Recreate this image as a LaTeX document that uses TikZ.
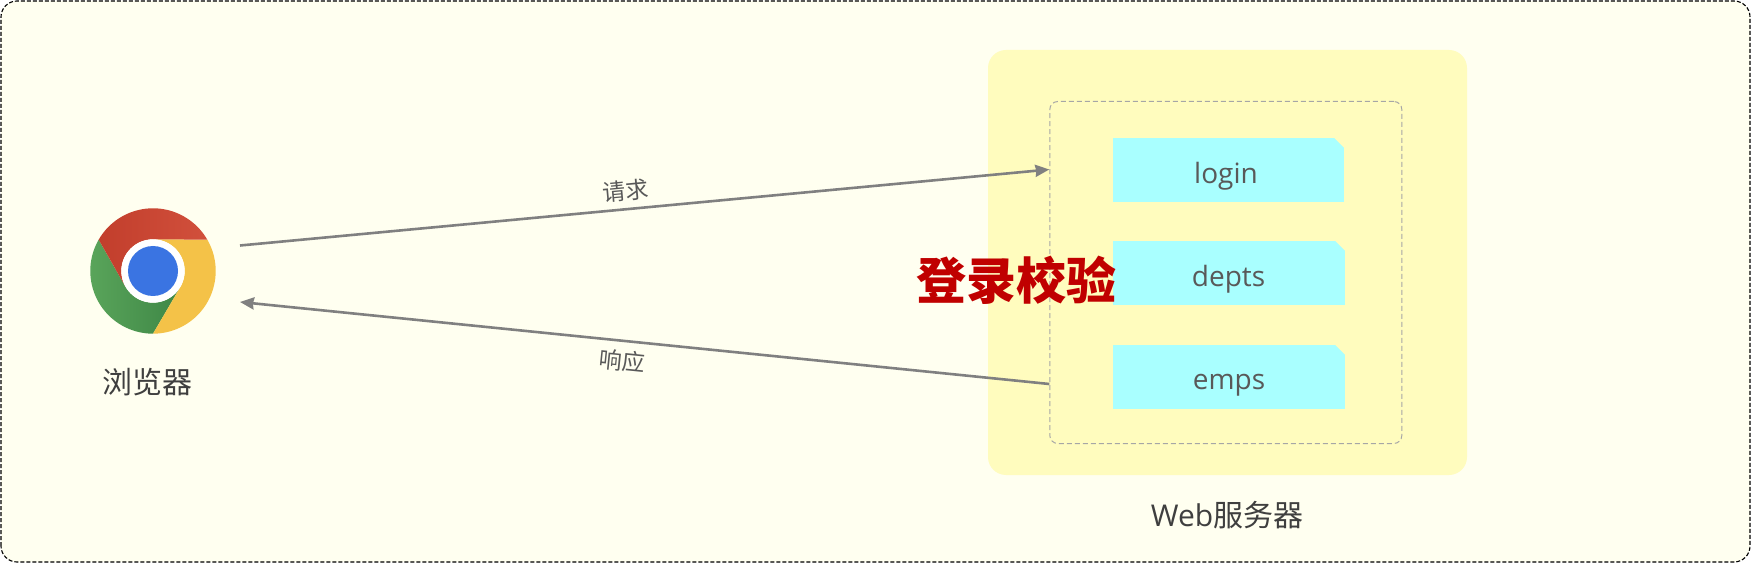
\documentclass[tikz,border=0pt]{standalone}
\usepackage{fontspec}
\setmainfont{Open Sans}
\newfontfamily\cjk{Noto Sans CJK SC}
\usetikzlibrary{arrows.meta}
\definecolor{pagebg}{HTML}{FFFFF0}
\definecolor{serverbg}{HTML}{FFFCBE}
\definecolor{servlet}{HTML}{A9FFFF}
\definecolor{labeltxt}{HTML}{3F3F3F}
\definecolor{servlettxt}{HTML}{595959}
\definecolor{arrowgray}{HTML}{808080}
\definecolor{alarm}{HTML}{C00000}
\tikzset{
  outerframe/.style={draw=black,fill=pagebg,line width=1.1pt,rounded corners=16pt,dash pattern=on 4pt off 2pt},
  serverbox/.style={fill=serverbg,rounded corners=18pt},
  innerbox/.style={draw=black!35,line width=1pt,rounded corners=8pt,dash pattern=on 5pt off 3pt},
  servletbox/.style={rectangle,fill=servlet,minimum height=64pt,inner sep=0pt},
  servlettext/.style={text=servlettxt,font=\fontsize{28}{32}\selectfont},
  notch/.style={fill=serverbg},
  flow/.style={draw=arrowgray,line width=2.6pt,-{Stealth[length=14pt,width=12pt,inset=1pt]}},
  flowlabel/.style={text=black!65,font=\fontsize{23}{26}\cjk\selectfont},
  caption/.style={text=labeltxt,font=\fontsize{30}{34}\cjk\selectfont},
}
\begin{document}
\begin{tikzpicture}[x=1pt,y=1pt]
\useasboundingbox (0,0) rectangle (1751,563);
\draw[outerframe] (1,1) rectangle (1750,562);
\fill[serverbox] (988,88) rectangle (1467,513);
\node[innerbox,draw,minimum width=352pt,minimum height=342pt,inner sep=0pt,anchor=south west] (inner) at (1049.3,119) {};
\node[servletbox,minimum width=231pt] (login) at (1228.5,393) {};
\node[servletbox,minimum width=232pt] (depts) at (1229,290) {};
\node[servletbox,minimum width=232pt] (emps) at (1229,186) {};
\fill[notch] (login.north east) -- ++(-10,0) -- ++(10,-10) -- cycle;
\fill[notch] (depts.north east) -- ++(-10,0) -- ++(10,-10) -- cycle;
\fill[notch] (emps.north east) -- ++(-10,0) -- ++(10,-10) -- cycle;
\node[servlettext] (logintxt) at (1226,387) {login};
\node[servlettext] (deptstxt) at (1228.5,284) {depts};
\node[servlettext] (empstxt) at (1229,177.5) {emps};
% Chrome logo
\begin{scope}[shift={(153,292)}]
  \shade[left color={rgb,255:red,92;green,167;blue,92},right color={rgb,255:red,62;green,135;blue,70}]
     (150:62.7) arc[start angle=150,end angle=270,radius=62.7] -- (330:31.7) arc[start angle=330,end angle=210,radius=31.7] -- cycle;
  \fill[color={rgb,255:red,244;green,194;blue,72}]
     (30:62.7) arc[start angle=30,end angle=-90,radius=62.7] -- (330:31.7) arc[start angle=-30,end angle=90,radius=31.7] -- cycle;
  \shade[left color={rgb,255:red,194;green,62;blue,44},right color={rgb,255:red,209;green,80;blue,60}]
     (150:62.7) arc[start angle=150,end angle=30,radius=62.7] -- (90:31.7) arc[start angle=90,end angle=210,radius=31.7] -- cycle;
  \fill[white] (0,0) circle[radius=31.7];
  \node[circle,fill={rgb,255:red,58;green,116;blue,226},minimum size=50pt,inner sep=0pt] (chrome) at (0,0) {};
\end{scope}
\coordinate (reqstart) at (240,317.5);
\coordinate (reqend) at (inner.west |- 0,393.5);
\coordinate (respstart) at (inner.west |- 0,179);
\coordinate (respend) at (240,261);
\draw[flow] (reqstart) -- (reqend);
\draw[flow] (respstart) -- (respend);
\node[flowlabel,rotate=5.3] (reqlabel) at (625.5,372) {请求};
\node[flowlabel,rotate=-5.8] (resplabel) at (622,202) {响应};
\node[caption] (browser) at (147,181) {浏览器};
\node[caption] (server) at (1227,48) {\fontspec{Open Sans}Web\cjk 服务器};
\node[text=alarm,font=\fontsize{50}{56}\cjk\bfseries\selectfont] (auth) at (1016,283) {登录校验};
\end{tikzpicture}
\end{document}
